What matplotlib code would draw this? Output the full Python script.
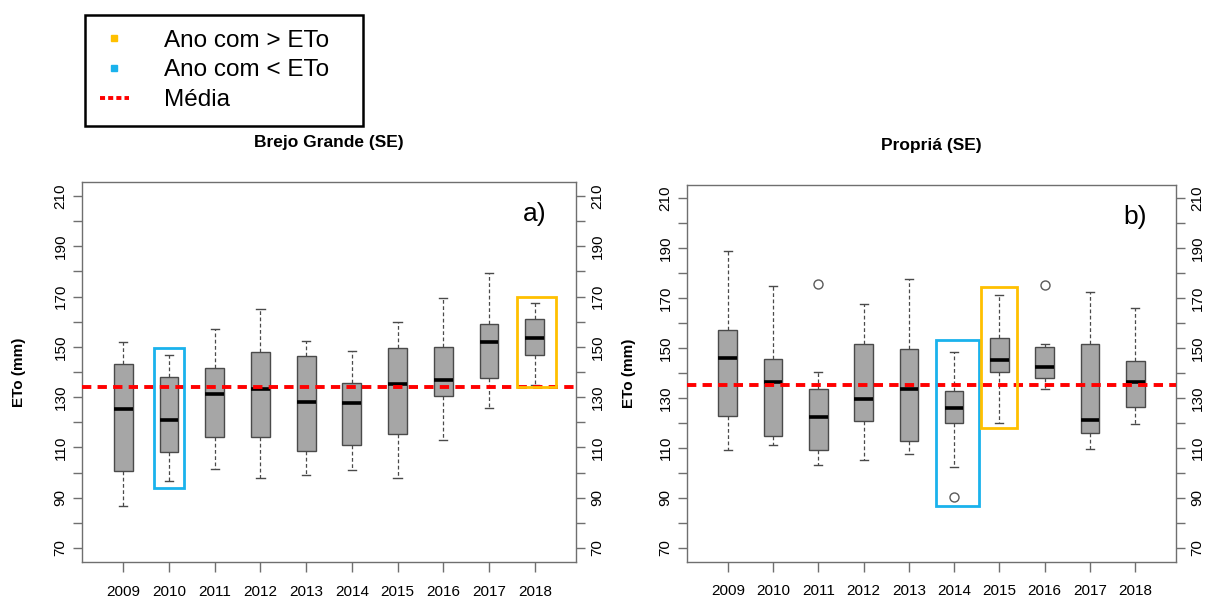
import numpy as np
import matplotlib.pyplot as plt
from matplotlib.lines import Line2D
from matplotlib.patches import Rectangle

plt.rcParams['font.family'] = ['Liberation Sans', 'DejaVu Sans']

years = [2009, 2010, 2011, 2012, 2013, 2014, 2015, 2016, 2017, 2018]

# Brejo Grande (SE) - box statistics
bg_whislo = [86.5, 96.5, 101.6, 98.0, 99.2, 101.2, 98.0, 113.0, 125.6, 134.8]
bg_q1 = [100.8, 108.0, 114.0, 114.0, 108.5, 110.8, 115.5, 130.4, 137.6, 146.6]
bg_med = [125.1, 121.0, 131.3, 133.3, 128.0, 127.7, 135.4, 136.8, 151.9, 153.6]
bg_q3 = [143.0, 138.0, 141.5, 147.9, 146.3, 135.7, 149.6, 149.9, 158.9, 161.2]
bg_whishi = [151.8, 146.7, 157.0, 164.9, 152.3, 148.3, 159.8, 169.5, 179.4, 167.5]
bg_fliers = [[], [], [], [], [], [], [], [], [], []]
bg_mean = 134.1

# Propriá (SE)
pr_whislo = [109.0, 111.0, 103.2, 105.2, 107.5, 102.2, 120.0, 133.5, 109.5, 119.5]
pr_q1 = [122.8, 114.8, 109.0, 120.7, 112.7, 120.1, 140.4, 137.9, 115.9, 126.3]
pr_med = [146.0, 136.5, 122.4, 129.4, 133.4, 126.0, 145.3, 142.6, 121.1, 136.5]
pr_q3 = [157.2, 145.6, 133.4, 151.8, 149.8, 132.9, 154.2, 150.5, 151.8, 144.9]
pr_whishi = [188.9, 174.7, 140.4, 167.5, 177.7, 148.5, 171.1, 151.8, 172.4, 166.0]
pr_fliers = [[], [], [175.8], [], [], [90.2], [], [175.1], [], []]
pr_mean = 135.1

# highlighted years: year, colour key, lower / upper edge, x-span around the box
bg_hl_years = [2010, 2018]
bg_hl_kind = ['low', 'high']
bg_hl_ymin = [93.9, 134.1]
bg_hl_ymax = [149.5, 169.9]
bg_hl_x0 = [-0.33, -0.40]
bg_hl_x1 = [0.33, 0.46]

pr_hl_years = [2014, 2015]
pr_hl_kind = ['low', 'high']
pr_hl_ymin = [86.8, 118.1]
pr_hl_ymax = [153.2, 174.5]
pr_hl_x0 = [-0.41, -0.40]
pr_hl_x1 = [0.54, 0.39]

yticks_major = [70, 90, 110, 130, 150, 170, 190, 210]
yticks_minor = [80, 100, 120, 140, 160, 180, 200]

C_HIGH = '#FFC000'
C_LOW = '#1AB2EC'
C_AXIS = '#6f6f6f'


def draw_panel(ax, whislo, q1, med, q3, whishi, fliers, mean,
               hl_years, hl_kind, hl_ymin, hl_ymax, hl_x0, hl_x1,
               title, tag, lab_x):
    stats = []
    for i in range(len(years)):
        stats.append(dict(whislo=whislo[i], q1=q1[i], med=med[i], q3=q3[i],
                          whishi=whishi[i], fliers=fliers[i]))
    pos = np.arange(1, len(years) + 1)
    ax.bxp(stats, positions=pos, widths=0.41, capwidths=0.18,
           patch_artist=True, showfliers=True,
           boxprops=dict(facecolor='#a6a6a6', edgecolor='#4a4a4a', linewidth=1.0),
           medianprops=dict(color='black', linewidth=2.6, solid_capstyle='butt'),
           whiskerprops=dict(color='#4a4a4a', linestyle=(0, (3, 2)), linewidth=0.9),
           capprops=dict(color='#4a4a4a', linewidth=1.0),
           flierprops=dict(marker='o', markerfacecolor='none',
                           markeredgecolor='#5a5a5a', markersize=6.5,
                           markeredgewidth=1.0))

    ax.axhline(mean, color='red', linewidth=2.8, linestyle=(0, (2.4, 1.6)),
               zorder=5)

    for yr, kind, y0, y1, x0, x1 in zip(hl_years, hl_kind, hl_ymin, hl_ymax,
                                         hl_x0, hl_x1):
        p = years.index(yr) + 1
        col = C_HIGH if kind == 'high' else C_LOW
        ax.add_patch(Rectangle((p + x0, y0), x1 - x0, y1 - y0, fill=False,
                               edgecolor=col, linewidth=2.0, zorder=6))

    ax.set_xlim(0.1, 10.9)
    ax.set_ylim(64.4, 215.6)
    ax.set_xticks(pos)
    ax.set_xticklabels([str(y) for y in years], fontsize=11)
    ax.set_yticks(yticks_major)
    ax.set_yticks(yticks_minor, minor=True)
    ax.set_yticklabels([str(v) for v in yticks_major], rotation=90,
                       va='center', fontsize=11)
    ax.tick_params(axis='y', which='both', right=True, labelright=True,
                   length=6.5, width=1.0, color=C_AXIS, pad=4)
    ax.tick_params(axis='x', length=7.2, width=1.0, color=C_AXIS, pad=9)
    for s in ax.spines.values():
        s.set_color(C_AXIS)
        s.set_linewidth(1.0)

    ax.set_ylabel('ETo (mm)', fontsize=11, fontweight='bold')
    ax.yaxis.set_label_coords(lab_x, 0.5)
    ax.text(0.5, 1.103, title, transform=ax.transAxes, ha='center',
            va='center', fontsize=12.5, fontweight='bold')
    ax.text(0.917, 0.915, tag, transform=ax.transAxes, ha='center',
            va='center', fontsize=19)


fig = plt.figure(figsize=(12.16, 6.03), dpi=100)
ax1 = fig.add_axes([82 / 1216, 41 / 603, 494 / 1216, 380 / 603])
ax2 = fig.add_axes([687 / 1216, 41.5 / 603, 489 / 1216, 377 / 603])

draw_panel(ax1, bg_whislo, bg_q1, bg_med, bg_q3, bg_whishi, bg_fliers, bg_mean,
           bg_hl_years, bg_hl_kind, bg_hl_ymin, bg_hl_ymax, bg_hl_x0, bg_hl_x1,
           'Brejo Grande (SE)', 'a)', -0.113)
draw_panel(ax2, pr_whislo, pr_q1, pr_med, pr_q3, pr_whishi, pr_fliers, pr_mean,
           pr_hl_years, pr_hl_kind, pr_hl_ymin, pr_hl_ymax, pr_hl_x0, pr_hl_x1,
           'Propriá (SE)', 'b)', -0.104)

handles = [
    Line2D([], [], marker='s', linestyle='none', color=C_HIGH, markersize=5),
    Line2D([], [], marker='s', linestyle='none', color=C_LOW, markersize=5),
    Line2D([], [], color='red', linewidth=2.8, linestyle=(0, (1.3, 0.8))),
]
labels = ['Ano com > ETo', 'Ano com < ETo', 'Média']
leg = fig.legend(handles, labels, loc='upper left', mode='expand',
                 bbox_to_anchor=(85 / 1216, 1 - 123 / 603, 278 / 1216, 108 / 603),
                 borderaxespad=0, fancybox=False, framealpha=1,
                 edgecolor='black', fontsize=17.5, handlelength=1.2,
                 handletextpad=1.45, labelspacing=0.32, borderpad=0.6)
leg.get_frame().set_linewidth(1.8)

fig.savefig('out.png', dpi=100)
